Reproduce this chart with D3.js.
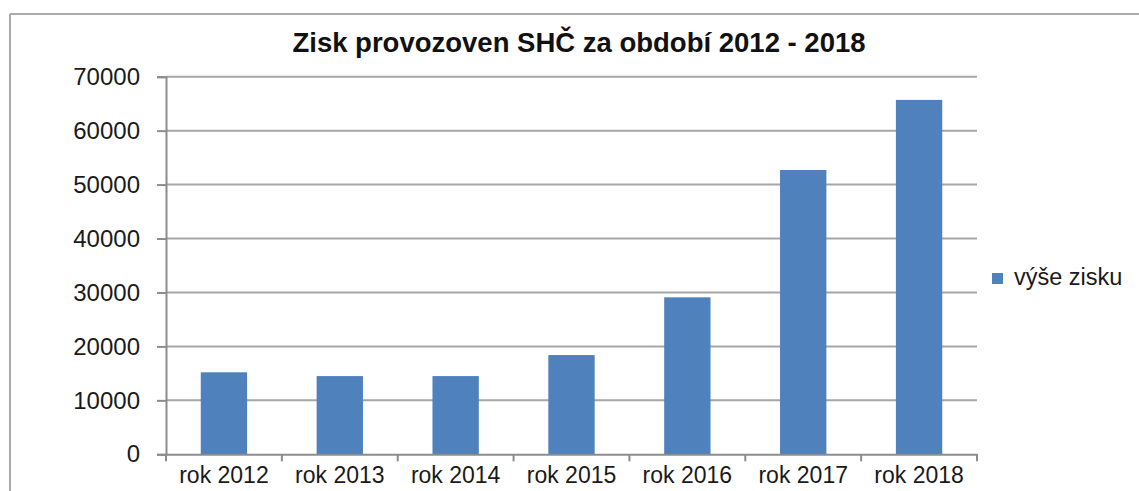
<!DOCTYPE html>
<html>
<head>
<meta charset="utf-8">
<script src="https://cdn.jsdelivr.net/npm/d3@7"></script>
<style>
  html, body { margin: 0; padding: 0; background: #fff; }
  svg { display: block; }
  text { font-family: "Liberation Sans", Arial, sans-serif; }
</style>
</head>
<body>
<svg id="chart" width="1139" height="491"></svg>
<script>
const categories = ["rok 2012", "rok 2013", "rok 2014", "rok 2015", "rok 2016", "rok 2017", "rok 2018"];
const values = [15200, 14500, 14500, 18400, 29100, 52700, 65700];
const yTicks = [0, 10000, 20000, 30000, 40000, 50000, 60000, 70000];
const seriesName = "výše zisku";
const title = "Zisk provozoven SHČ za období 2012 - 2018";

const svg = d3.select("#chart");
const W = 1139, H = 491;
const plot = { left: 166, right: 977, top: 76.7, bottom: 454.3 };

// outer chart border (top + left visible)
svg.append("line").attr("x1", 10).attr("x2", W + 5).attr("y1", 14).attr("y2", 14)
  .attr("stroke", "#ababab").attr("stroke-width", 2);
svg.append("line").attr("x1", 10).attr("x2", 10).attr("y1", 14).attr("y2", H + 5)
  .attr("stroke", "#ababab").attr("stroke-width", 2);

const y = d3.scaleLinear().domain([0, 70000]).range([plot.bottom, plot.top]);
const xCat = d3.scaleBand().domain(categories).range([plot.left, plot.right]).padding(0);
const xBar = d3.scaleBand().domain(categories).range([plot.left, plot.right])
  .paddingInner(0.6).paddingOuter(0.3);

// gridlines
svg.append("g").selectAll("line").data(yTicks.filter(d => d > 0)).join("line")
  .attr("x1", plot.left).attr("x2", plot.right)
  .attr("y1", d => y(d)).attr("y2", d => y(d))
  .attr("stroke", "#a6a6a6").attr("stroke-width", 2);

// y axis
const yAxis = svg.append("g").attr("transform", `translate(${plot.left},0)`)
  .call(d3.axisLeft(y).tickValues(yTicks).tickSize(9).tickPadding(17).tickFormat(d3.format("d")));
yAxis.select(".domain").attr("stroke", "#8c8c8c").attr("stroke-width", 2);
yAxis.selectAll(".tick line").attr("stroke", "#8c8c8c").attr("stroke-width", 2);
yAxis.selectAll(".tick text").attr("font-size", 24).attr("fill", "#1a1a1a")
  .attr("font-family", "'Liberation Sans', Arial, sans-serif");

// bars
svg.append("g").selectAll("rect").data(values).join("rect")
  .attr("x", (d, i) => xBar(categories[i]))
  .attr("width", xBar.bandwidth())
  .attr("y", d => y(d))
  .attr("height", d => y(0) - y(d))
  .attr("fill", "#4f81bd");

// x axis
const xAxis = svg.append("g").attr("transform", `translate(0,${plot.bottom})`)
  .call(d3.axisBottom(xCat).tickSize(0).tickPadding(12));
xAxis.select(".domain").attr("stroke", "#8c8c8c").attr("stroke-width", 2);
xAxis.selectAll(".tick text").attr("font-size", 23).attr("fill", "#1a1a1a")
  .attr("font-family", "'Liberation Sans', Arial, sans-serif");
// tick marks at category boundaries
const bounds = categories.map(c => xCat(c)).concat([plot.right]);
svg.append("g").selectAll("line").data(bounds).join("line")
  .attr("x1", d => d).attr("x2", d => d)
  .attr("y1", plot.bottom).attr("y2", plot.bottom + 7)
  .attr("stroke", "#8c8c8c").attr("stroke-width", 2);

// title
svg.append("text").attr("x", 579).attr("y", 52).attr("text-anchor", "middle")
  .attr("font-size", 27.5).attr("font-weight", "bold").attr("fill", "#111")
  .text(title);

// legend
const lg = svg.append("g").attr("transform", "translate(992,273)");
lg.append("rect").attr("width", 11).attr("height", 11).attr("fill", "#4f81bd");
lg.append("text").attr("x", 22).attr("y", 12).attr("font-size", 23.5).attr("fill", "#1a1a1a")
  .text(seriesName);
</script>
</body>
</html>
